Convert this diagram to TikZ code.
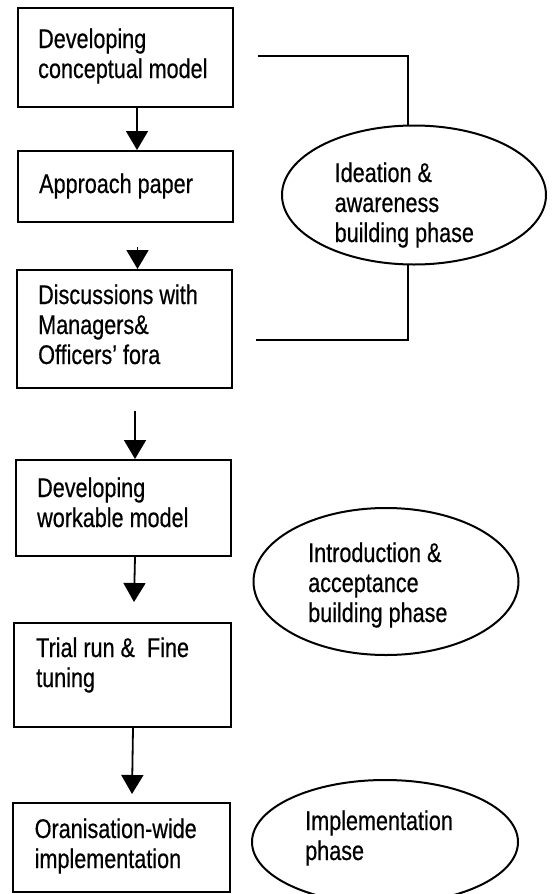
\documentclass[tikz,border=0pt]{standalone}
\usepackage{fontspec}
\setmainfont{Liberation Sans}[FakeStretch=0.8,FakeBold=0.5]
\usetikzlibrary{arrows.meta,shapes.geometric}
\newcommand\tlines[1]{\begin{tabular}[t]{@{}l@{}}#1\end{tabular}}
\begin{document}
\begin{tikzpicture}[x=1pt,y=-1pt,
  stagebox/.style={draw,line width=2pt,rectangle,inner sep=0pt},
  phase/.style={draw,line width=2pt,ellipse,inner sep=0pt},
  txt/.style={anchor=base west,inner sep=0pt,font=\fontsize{27}{30}\selectfont},
  flow/.style={line width=1.8pt,-{Triangle[width=22pt,length=19pt]}},
  link/.style={line width=2pt}]
\useasboundingbox (0,0) rectangle (553,894);

% process steps
\node[stagebox,minimum width=215pt,minimum height=99pt]  (b1) at (125.5,57.5) {};
\node[stagebox,minimum width=215pt,minimum height=71pt]  (b2) at (125.5,186.5) {};
\node[stagebox,minimum width=215pt,minimum height=118pt] (b3) at (124.5,329) {};
\node[stagebox,minimum width=215pt,minimum height=96pt]  (b4) at (123.5,508) {};
\node[stagebox,minimum width=217pt,minimum height=104pt] (b5) at (122.5,675) {};
\node[stagebox,minimum width=217pt,minimum height=89pt]  (b6) at (121.5,847.5) {};

\node[txt] (l1) at (38,48)   {\tlines{Developing\\conceptual model}};
\node[txt] (l2) at (39,193)  {\tlines{Approach paper}};
\node[txt] (l3) at (38,304)  {\tlines{Discussions with\\Managers\&\\Officers' fora}};
\node[txt] (l4) at (37,497)  {\tlines{Developing\\workable model}};
\node[txt] (l5) at (36,657)  {\tlines{Trial run \&\ \ Fine\\tuning}};
\node[txt] (l6) at (34.5,838){\tlines{Oranisation-wide\\implementation}};

% phases
\node[phase,minimum width=264pt,minimum height=139pt] (e1) at (414,195) {};
\node[phase,minimum width=265pt,minimum height=147pt] (e2) at (386,581.5) {};
\node[phase,minimum width=266pt,minimum height=124pt] (e3) at (385,842) {};

\node[txt] (p1) at (334.5,182) {\tlines{Ideation \&\\awareness\\building phase}};
\node[txt] (p2) at (308,562)   {\tlines{Introduction \&\\acceptance\\building phase}};
\node[txt] (p3) at (305,830)   {\tlines{Implementation\\phase}};

% flow arrows
\draw[flow] ([xshift=11.5pt]b1.south) -- ([xshift=11.5pt]b2.north);
\draw[flow] ([xshift=13pt,yshift=22pt]b3.north) -- ([xshift=13pt]b3.north);
\draw[flow] ([xshift=11.5pt,yshift=48pt]b4.north) -- ([xshift=11.5pt]b4.north);
\draw[flow] ([xshift=11.5pt]b4.south) -- ([xshift=11.5pt,yshift=20pt]b5.north);
\draw[flow] ([xshift=10.5pt]b5.south) -- ([xshift=10.5pt,yshift=8pt]b6.north);

% bracket grouping the first three steps
\coordinate (k1) at (258,56);
\coordinate (k2) at (256,340);
\draw[link] (k1) -| (e1.95);
\draw[link] (e1.265) |- (k2);
\end{tikzpicture}
\end{document}
